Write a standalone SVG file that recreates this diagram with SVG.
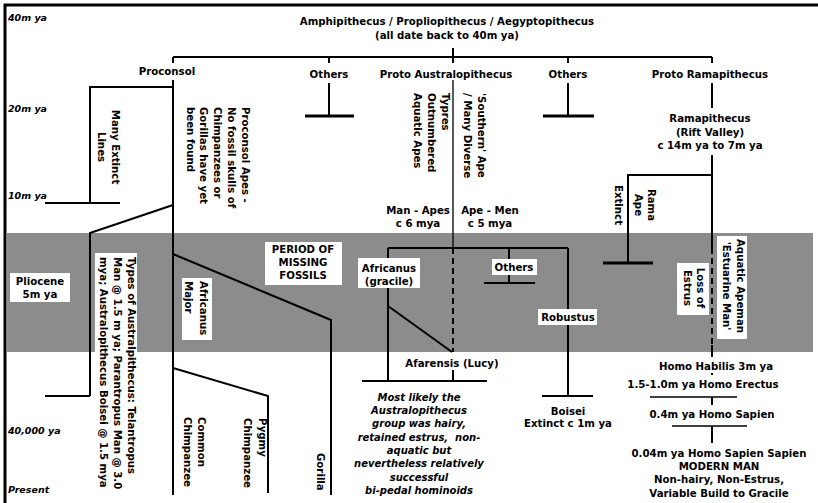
<svg xmlns="http://www.w3.org/2000/svg" width="818" height="503" viewBox="0 0 818 503">
<style>
.t{font-family:"DejaVu Sans","Liberation Sans",sans-serif;font-weight:bold;font-size:10.2px;fill:#000}
.m{text-anchor:middle}
.ti{font-family:"DejaVu Sans","Liberation Sans",sans-serif;font-weight:bold;font-style:italic;font-size:9.5px;fill:#000}
.it{font-family:"DejaVu Sans","Liberation Sans",sans-serif;font-weight:bold;font-style:italic;font-size:10px;fill:#000;text-anchor:middle}
.ln{stroke:#000;stroke-width:2;fill:none}
.th{stroke:#000;stroke-width:3;fill:none}
.tn{stroke:#000;stroke-width:1.3;fill:none}
.ds{stroke:#000;stroke-width:2;fill:none;stroke-dasharray:6 4}
.bx{fill:#fff}
</style>
<rect width="818" height="503" fill="#fff"/>
<rect x="7" y="233" width="806" height="119" fill="#8c8c8c"/>
<path class="th" d="M5,503 V5 H818"/>

<g id="timescale">
<text class="ti" x="8" y="21">40m ya</text>
<text class="ti" x="8" y="112">20m ya</text>
<text class="ti" x="8" y="199">10m ya</text>
<text class="ti" x="8" y="434">40,000 ya</text>
<text class="ti" x="8" y="493">Present</text>
</g>

<g id="connectors">
<path class="ln" d="M453,48 V63 M173,57 H712 M173,57 V63 M329,57 V63 M568,57 V63 M712,57 V63"/>
<path class="ln" d="M329,83 V116 M568,83 V116"/>
<path class="th" d="M305,116 H354 M543,116 H594"/>
<path class="ln" d="M173,80 V495 M173,87 H90 V203 M45,203 H120"/>
<path class="ln" d="M173,205 L90,233 V396 M45,396 H90"/>
<path class="ln" d="M173,254 L331,320 V495"/>
<path class="ln" d="M173,368 L268,396 V493"/>
<path class="tn" d="M453,80 V248"/>
<path class="ds" d="M453,248 V352"/>
<path class="ln" d="M453,370 V381"/>
<path class="ln" d="M388,248 H568 M509,248 V283 M484,283 H535"/>
<path class="ln" d="M388,248 V381 M362,381 H487 M388,306 L452,352"/>
<path class="ln" d="M568,248 V396 M542,396 H593"/>
<path class="ln" d="M712,83 V108 M712,155 V248 M712,175 H628 V263"/>
<path class="th" d="M603,263 H653"/>
<path class="ds" d="M712,248 V345"/>
<path class="ln" d="M712,345 V357 M712,373 V375"/>
<path class="tn" d="M650,397 H737 M672,426 H747"/>
<path class="ln" d="M712,397 V405 M712,426 V443"/>
</g>

<g id="title">
<text class="t m" x="447" y="25">Amphipithecus / Propliopithecus / Aegyptopithecus</text>
<text class="t m" x="447" y="39">(all date back to 40m ya)</text>
</g>
<g id="proconsol"><text class="t m" x="167" y="75">Proconsol</text></g>
<g id="others1"><text class="t m" x="329" y="78">Others</text></g>
<g id="proto-australopithecus"><text class="t m" x="446" y="78">Proto Australopithecus</text></g>
<g id="others2"><text class="t m" x="568" y="78">Others</text></g>
<g id="proto-ramapithecus"><text class="t m" x="710" y="78">Proto Ramapithecus</text></g>

<g id="many-extinct" transform="translate(0,147) rotate(90)">
<text class="t m" x="0" y="-111.5">Many Extinct</text>
<text class="t m" x="0" y="-97.5">Lines</text>
</g>

<g id="proconsol-apes" transform="translate(0,107) rotate(90)">
<text class="t" x="0" y="-241.5">Proconsol Apes -</text>
<text class="t" x="0" y="-227.8">No fossil skulls of</text>
<text class="t" x="0" y="-214.1">Chimpanzees or</text>
<text class="t" x="0" y="-200.4">Gorillas have yet</text>
<text class="t" x="0" y="-186.7">been found</text>
</g>

<g id="typres" transform="translate(0,93) rotate(90)">
<text class="t" x="0" y="-441.5">Typres</text>
<text class="t" x="0" y="-427.5">Outnumbered</text>
<text class="t" x="0" y="-413.5">Aquatic Apes</text>
</g>

<g id="southern-ape" transform="translate(0,93) rotate(90)">
<text class="t" x="0" y="-478">'Southern' Ape</text>
<text class="t" x="0" y="-464">/ Many Diverse</text>
</g>

<g id="ramapithecus">
<text class="t m" x="710" y="122">Ramapithecus</text>
<text class="t m" x="710" y="136">(Rift Valley)</text>
<text class="t m" x="710" y="149">c 14m ya to 7m ya</text>
</g>

<g id="rama-ape" transform="translate(0,205) rotate(90)">
<text class="t m" x="0" y="-647.5">Rama</text>
<text class="t m" x="0" y="-634.5">Ape</text>
</g>
<g id="extinct" transform="translate(0,205) rotate(90)">
<text class="t m" x="0" y="-614.5">Extinct</text>
</g>

<g id="man-apes">
<text class="t m" x="418" y="214">Man - Apes</text>
<text class="t m" x="418" y="227">c 6 mya</text>
</g>
<g id="ape-men">
<text class="t m" x="490" y="214">Ape - Men</text>
<text class="t m" x="490" y="227">c 5 mya</text>
</g>

<g id="pliocene">
<rect class="bx" x="10" y="273" width="60" height="29"/>
<text class="t m" x="40" y="285">Pliocene</text>
<text class="t m" x="40" y="298">5m ya</text>
</g>

<g id="types-australopithecus">
<rect class="bx" x="95" y="253" width="42" height="99"/>
<g transform="translate(0,257) rotate(90)">
<text class="t" x="0" y="-128">Types of Australpithecus: Telantropus</text>
<text class="t" x="0" y="-114">Man @ 1.5 m ya; Parantropus Man @ 3.0</text>
<text class="t" x="0" y="-100">mya; Australopithecus Boisei @ 1.5 mya</text>
</g>
</g>

<g id="africanus-major">
<rect class="bx" x="182" y="278" width="30" height="62"/>
<g transform="translate(0,281) rotate(90)">
<text class="t" x="0" y="-199.5">Africanus</text>
<text class="t" x="0" y="-185">Major</text>
</g>
</g>

<g id="missing-fossils">
<rect class="bx" x="265" y="242" width="77" height="43"/>
<text class="t m" x="303" y="253">PERIOD OF</text>
<text class="t m" x="303" y="266">MISSING</text>
<text class="t m" x="303" y="279">FOSSILS</text>
</g>

<g id="africanus-gracile">
<rect class="bx" x="358" y="258" width="62" height="30"/>
<text class="t m" x="389" y="272">Africanus</text>
<text class="t m" x="389" y="285">(gracile)</text>
</g>

<g id="others3">
<rect class="bx" x="492" y="259" width="45" height="16"/>
<text class="t m" x="514" y="271">Others</text>
</g>

<g id="robustus">
<rect class="bx" x="538" y="309" width="59" height="16"/>
<text class="t m" x="568" y="321">Robustus</text>
</g>

<g id="loss-of-estrus">
<rect class="bx" x="677" y="263" width="32" height="52"/>
<g transform="translate(0,288) rotate(90)">
<text class="t m" x="0" y="-697">Loss of</text>
<text class="t m" x="0" y="-684">Estrus</text>
</g>
</g>

<g id="aquatic-apeman">
<rect class="bx" x="717" y="236" width="30" height="103"/>
<g transform="translate(0,286) rotate(90)">
<text class="t m" x="0" y="-736.5">Aquatic Apeman</text>
<text class="t m" x="0" y="-722.5">'Estuarine Man'</text>
</g>
</g>

<g id="afarensis"><text class="t m" x="452" y="367">Afarensis (Lucy)</text></g>

<g id="common-chimpanzee" transform="translate(0,417) rotate(90)">
<text class="t" x="0" y="-197.5">Common</text>
<text class="t" x="0" y="-184">Chimpanzee</text>
</g>
<g id="pygmy-chimpanzee" transform="translate(0,418) rotate(90)">
<text class="t" x="0" y="-259">Pygmy</text>
<text class="t" x="0" y="-244">Chimpanzee</text>
</g>
<g id="gorilla" transform="translate(0,453) rotate(90)">
<text class="t" x="0" y="-316.5">Gorilla</text>
</g>

<g id="australopithecus-note">
<text class="it" x="419" y="401">Most likely the</text>
<text class="it" x="419" y="414">Australopithecus</text>
<text class="it" x="419" y="427">group was hairy,</text>
<text class="it" x="419" y="441" xml:space="preserve">retained estrus,  non-</text>
<text class="it" x="419" y="454">aquatic but</text>
<text class="it" x="419" y="467">nevertheless relatively</text>
<text class="it" x="419" y="481">successful</text>
<text class="it" x="419" y="494">bi-pedal hominoids</text>
</g>

<g id="boisei">
<text class="t m" x="568" y="415">Boisei</text>
<text class="t m" x="568" y="427">Extinct c 1m ya</text>
</g>

<g id="homo">
<text class="t m" x="716" y="370">Homo Habilis 3m ya</text>
<text class="t m" x="703" y="388">1.5-1.0m ya Homo Erectus</text>
<text class="t m" x="712" y="418">0.4m ya Homo Sapien</text>
<text class="t m" x="719" y="457">0.04m ya Homo Sapien Sapien</text>
<text class="t m" x="719" y="470">MODERN MAN</text>
<text class="t m" x="719" y="483">Non-hairy, Non-Estrus,</text>
<text class="t m" x="719" y="497">Variable Build to Gracile</text>
</g>
</svg>
